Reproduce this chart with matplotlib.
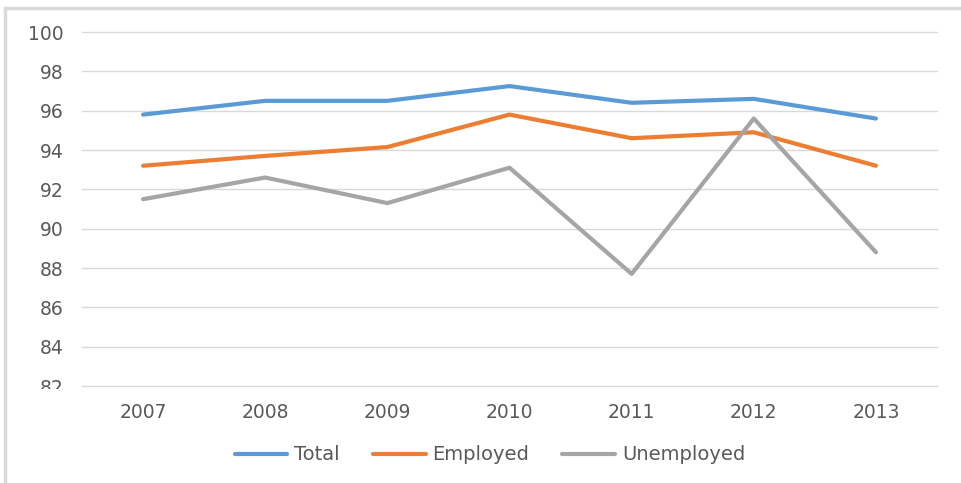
import matplotlib
matplotlib.use("Agg")
import matplotlib.pyplot as plt
from matplotlib.patches import Rectangle
from matplotlib.transforms import Bbox

years = ["2007", "2008", "2009", "2010", "2011", "2012", "2013"]
total = [95.8, 96.5, 96.5, 97.25, 96.4, 96.6, 95.6]
employed = [93.2, 93.7, 94.15, 95.8, 94.6, 94.9, 93.2]
unemployed = [91.5, 92.6, 91.3, 93.1, 87.7, 95.6, 88.8]
yticks = [82, 84, 86, 88, 90, 92, 94, 96, 98, 100]

W, H = 961, 483
fig = plt.figure(figsize=(W / 100, H / 100), dpi=100)
plt.rcParams['font.family'] = ['DejaVu Sans']

# outer frame
fig.patches.append(Rectangle((5 / W, -0.1), 1.2, 1 - 8 / H + 0.1, transform=fig.transFigure,
                             fill=False, edgecolor='#D9D9D9', linewidth=2.5))

ax = fig.add_axes([82 / W, 1 - 386 / H, (937 - 82) / W, (386 - 32) / H])
x = list(range(len(years)))
ax.plot(x, total, color='#5B9BD5', lw=3, label='Total', solid_capstyle='round')
ax.plot(x, employed, color='#ED7D31', lw=3, label='Employed', solid_capstyle='round')
ax.plot(x, unemployed, color='#A5A5A5', lw=3, label='Unemployed', solid_capstyle='round')

ax.set_xlim(-0.5, 6.5)
ax.set_ylim(82, 100)
ax.set_yticks(yticks)
ax.set_xticks(x)
ax.set_xticklabels(years)
ax.grid(axis='y', color='#D9D9D9', lw=1)
for gl in ax.get_ygridlines():
    gl.set_clip_on(False)
ax.set_axisbelow(True)
for s in ax.spines.values():
    s.set_visible(False)
ax.tick_params(length=0, colors='#595959', labelsize=13.5)
ax.tick_params(axis='y', pad=13)
ax.tick_params(axis='x', pad=12)

# the lowest label is partly hidden in the reference
fig.canvas.draw()
lab = ax.get_yticklabels()[0]
clip = Bbox.from_extents(0, H - 389, W, H)
lab.set_clip_box(clip)
lab.set_clip_on(True)

leg = fig.legend(loc='center', bbox_to_anchor=(490 / W, 1 - 455 / H), ncol=3, frameon=False,
                 fontsize=14, handlelength=2.7, columnspacing=1.7, handletextpad=0.36,
                 labelcolor='#595959')

fig.savefig('out.png', dpi=100)
